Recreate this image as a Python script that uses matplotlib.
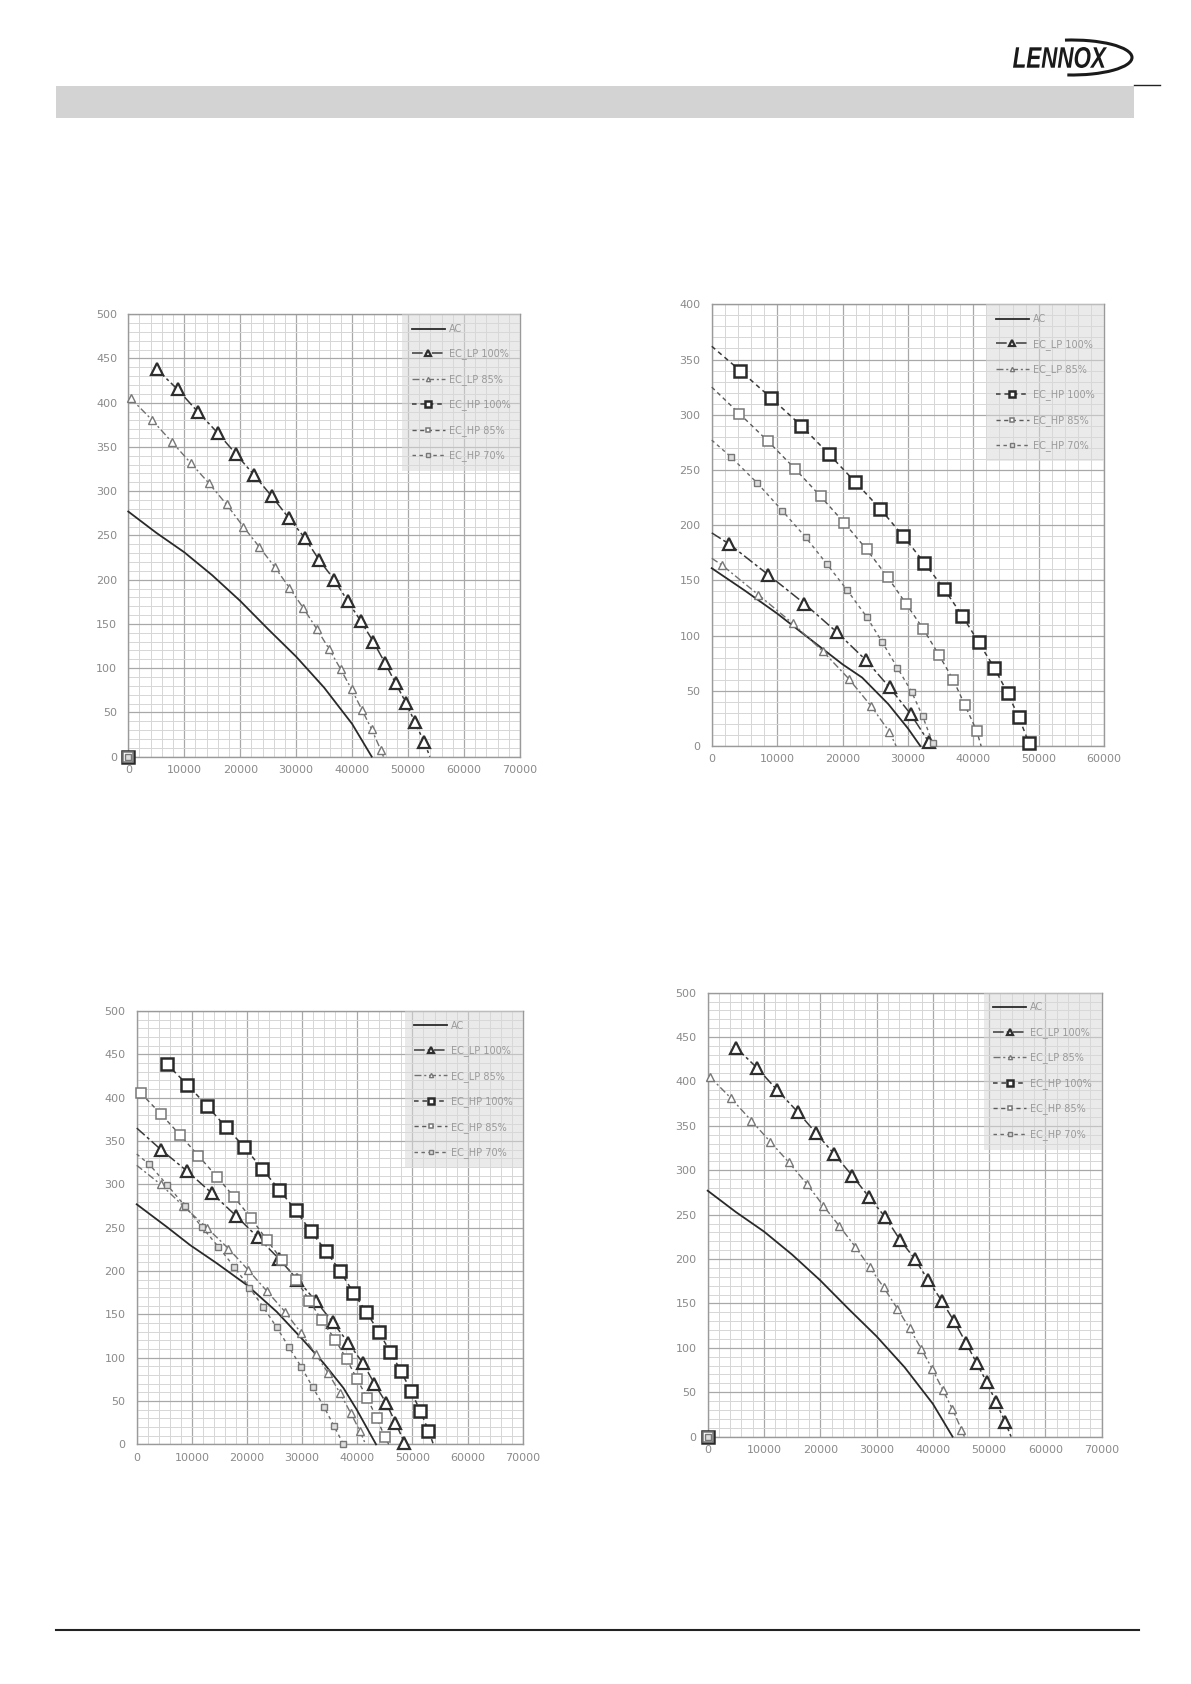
# Fan curves: pressure vs air flow, four unit variants (Lennox datasheet page)

import matplotlib
matplotlib.use("Agg")
import matplotlib.pyplot as plt
from matplotlib.lines import Line2D
from matplotlib.patches import Rectangle, PathPatch, Arc
from matplotlib.textpath import TextPath
from matplotlib.font_manager import FontProperties
from matplotlib.ticker import MultipleLocator
import matplotlib.transforms as mtransforms

W, H = 1191, 1684

labels = ["AC", "EC_LP 100%", "EC_LP 85%", "EC_HP 100%", "EC_HP 85%", "EC_HP 70%"]

# ---- chart 1 (top left) and chart 4 (bottom right) show the same curves
ac1_x = [0, 5000, 10000, 15000, 20000, 25000, 30000, 35000, 40000, 43500]
ac1_y = [277, 253, 231, 205, 176, 144, 113, 78, 37, 0]
lp100_1_x = [5060, 8820, 12390, 15960, 19240, 22510, 25670, 28650, 31570, 34130,
             36810, 39190, 41570, 43780, 45860, 47770, 49610, 51220, 52830]
lp100_1_y = [438, 415, 390, 366, 342, 318, 294, 270, 247, 222,
             200, 176, 153, 130, 106, 83, 61, 39, 17]
lp100_1_end = 53900
lp85_1_x = [420, 4170, 7740, 11140, 14410, 17570, 20550, 23410, 26210, 28770,
            31270, 33710, 35860, 37940, 39910, 41750, 43480, 45090]
lp85_1_y = [405, 381, 356, 332, 309, 285, 260, 237, 214, 191,
            168, 144, 122, 99, 76, 53, 31, 8]
lp85_1_end = 45600
hp_origin_x = [0]
hp_origin_y = [0]

# ---- chart 2 (top right)
ac2_x = [0, 5000, 10000, 15000, 20000, 23000, 27000, 30000, 31900]
ac2_y = [161, 141, 120, 97, 74, 62, 38, 16, 0]
lp100_2_x = [2650, 8660, 14160, 19150, 23540, 27200, 30410, 33160]
lp100_2_y = [183, 155, 129, 103, 78, 53, 29, 4]
lp100_2_start, lp100_2_end = 193, 33500
lp85_2_x = [1530, 7130, 12380, 16960, 20940, 24400, 27150]
lp85_2_y = [164, 137, 111, 86, 61, 36, 13]
lp85_2_start, lp85_2_end = 170, 28200
hp100_2_x = [4330, 9120, 13700, 17980, 21960, 25730, 29290, 32500, 35560, 38310,
             40810, 43200, 45240, 46970, 48500]
hp100_2_y = [340, 315, 290, 264, 239, 215, 190, 166, 142, 118,
             94, 71, 48, 26, 3]
hp100_2_start, hp100_2_end = 362, 48800
hp85_2_x = [4230, 8610, 12740, 16660, 20280, 23690, 26900, 29700, 32350, 34790,
            36930, 38720, 40500]
hp85_2_y = [301, 276, 251, 226, 202, 178, 153, 129, 106, 82, 60, 37, 14]
hp85_2_start, hp85_2_end = 325, 41200
hp70_2_x = [2900, 6980, 10800, 14370, 17580, 20730, 23690, 26080, 28380, 30570,
            32250, 33780]
hp70_2_y = [262, 238, 213, 189, 165, 141, 117, 94, 71, 49, 27, 3]
hp70_2_start, hp70_2_end = 277, 34000

# ---- chart 3 (bottom left)
ac3_x = [0, 5440, 9670, 14510, 19950, 25390, 30230, 33860, 37490, 39900, 43400]
ac3_y = [277, 251, 230, 209, 184, 153, 120, 94, 65, 40, 0]
lp100_3_x = [4410, 9190, 13600, 17960, 21950, 25820, 29140, 32530, 35550, 38390,
             40990, 43110, 45220, 46920, 48550]
lp100_3_y = [340, 315, 290, 264, 239, 214, 190, 165, 141, 117, 94, 70, 48, 25, 2]
lp100_3_start, lp100_3_end = 365, 48700
lp85_3_x = [4350, 8460, 12700, 16630, 20250, 23580, 26900, 29750, 32470, 34760,
            36880, 38820, 40510]
lp85_3_y = [300, 275, 250, 226, 201, 177, 153, 129, 104, 82, 59, 36, 15]
lp85_3_start, lp85_3_end = 322, 41500
hp100_3_x = [5440, 9190, 12700, 16200, 19530, 22730, 25820, 28840, 31560, 34340,
             36880, 39300, 41600, 43890, 45950, 47880, 49700, 51390, 52900]
hp100_3_y = [439, 415, 391, 366, 343, 318, 294, 270, 246, 223,
             200, 175, 153, 130, 107, 85, 62, 39, 16]
hp100_3_end = 53800
hp85_3_x = [790, 4410, 7860, 11190, 14510, 17720, 20740, 23580, 26300, 28900,
            31320, 33560, 35970, 38090, 39900, 41840, 43530, 45040]
hp85_3_y = [405, 381, 357, 333, 309, 285, 261, 236, 213, 190,
            166, 143, 121, 98, 76, 53, 30, 8]
hp85_3_end = 45700
hp70_3_x = [2300, 5560, 8770, 11790, 14810, 17650, 20440, 22980, 25390, 27620,
            29870, 31920, 33980, 35790, 37490]
hp70_3_y = [323, 299, 275, 251, 228, 205, 181, 158, 135, 112, 89, 66, 43, 21, 0]
hp70_3_start = 335

# ---- styles
st_ac = dict(color="#2a2a2a", lw=1.3, ls="-")
st_lp100 = dict(color="#3a3a3a", lw=1.1, dashes=(7, 2, 2, 2), marker="^", ms=8.5,
                mfc="white", mec="#2e2e2e", mew=1.6)
st_lp85 = dict(color="#707070", lw=1.0, dashes=(5, 2, 1.5, 2), marker="^", ms=5.5,
               mfc="white", mec="#777777", mew=1.0)
st_hp100 = dict(color="#3a3a3a", lw=1.1, dashes=(3, 2.5), marker="s", ms=9,
                mfc="white", mec="#2a2a2a", mew=1.8)
st_hp85 = dict(color="#5a5a5a", lw=1.0, dashes=(3, 2.5), marker="s", ms=6.5,
               mfc="white", mec="#777777", mew=1.1)
st_hp70 = dict(color="#6a6a6a", lw=1.0, dashes=(2.5, 2.5), marker="s", ms=5,
               mfc="#dddddd", mec="#777777", mew=1.0)


def series(ax, xs, ys, style, label, start=None, end=None):
    # line runs from an optional start on the y axis through the markers
    # to an optional end on the x axis; markers only on the read points
    lx = list(xs)
    ly = list(ys)
    first = 0
    if start is not None:
        lx = [0] + lx
        ly = [start] + ly
        first = 1
    if end is not None:
        lx = lx + [end]
        ly = ly + [0]
    idx = list(range(first, first + len(xs)))
    ax.plot(lx, ly, markevery=idx, label=label, clip_on=False, zorder=3, **style)


def setup(ax, xmax, ymax):
    ax.set_xlim(0, xmax)
    ax.set_ylim(0, ymax)
    ax.xaxis.set_major_locator(MultipleLocator(10000))
    ax.xaxis.set_minor_locator(MultipleLocator(2000))
    ax.yaxis.set_major_locator(MultipleLocator(50))
    ax.yaxis.set_minor_locator(MultipleLocator(10))
    ax.grid(which="major", color="#a8a8a8", lw=0.9)
    ax.grid(which="minor", color="#d6d6d6", lw=0.7)
    ax.set_axisbelow(True)
    ax.tick_params(which="both", length=0, labelsize=8, labelcolor="#8a8a8a")
    ax.tick_params(axis="x", pad=6)
    ax.tick_params(axis="y", pad=8)
    for s in ax.spines.values():
        s.set_color("#9a9a9a")
        s.set_linewidth(1.0)


def legend(ax):
    leg = ax.legend(loc="upper right", bbox_to_anchor=(1, 1), borderaxespad=0,
                    fontsize=7, labelcolor="#9a9a9a", handlelength=3.4,
                    labelspacing=1.5, borderpad=1.0, markerscale=0.55,
                    handletextpad=0.4, fancybox=False, frameon=True)
    fr = leg.get_frame()
    fr.set_facecolor("#d9d9d9")
    fr.set_alpha(0.55)
    fr.set_edgecolor("none")


fig = plt.figure(figsize=(W / 100, H / 100), dpi=100)

# axes boxes in figure fraction
ax1 = fig.add_axes([0.1077, 0.5507, 0.3289, 0.2627])
ax2 = fig.add_axes([0.5976, 0.5570, 0.3294, 0.2623])
ax3 = fig.add_axes([0.1148, 0.1423, 0.3241, 0.2573])
ax4 = fig.add_axes([0.5942, 0.1469, 0.3308, 0.2636])

# chart 1 and chart 4
for ax in (ax1, ax4):
    setup(ax, 70000, 500)
    series(ax, ac1_x, ac1_y, dict(st_ac), labels[0])
    series(ax, lp100_1_x, lp100_1_y, st_lp100, labels[1], end=lp100_1_end)
    series(ax, lp85_1_x, lp85_1_y, st_lp85, labels[2], end=lp85_1_end)
    series(ax, hp_origin_x, hp_origin_y, st_hp100, labels[3])
    series(ax, hp_origin_x, hp_origin_y, st_hp85, labels[4])
    series(ax, hp_origin_x, hp_origin_y, st_hp70, labels[5])
    legend(ax)

# chart 2
setup(ax2, 60000, 400)
series(ax2, ac2_x, ac2_y, st_ac, labels[0])
series(ax2, lp100_2_x, lp100_2_y, st_lp100, labels[1], lp100_2_start, lp100_2_end)
series(ax2, lp85_2_x, lp85_2_y, st_lp85, labels[2], lp85_2_start, lp85_2_end)
series(ax2, hp100_2_x, hp100_2_y, st_hp100, labels[3], hp100_2_start, hp100_2_end)
series(ax2, hp85_2_x, hp85_2_y, st_hp85, labels[4], hp85_2_start, hp85_2_end)
series(ax2, hp70_2_x, hp70_2_y, st_hp70, labels[5], hp70_2_start, hp70_2_end)
legend(ax2)

# chart 3
setup(ax3, 70000, 500)
series(ax3, ac3_x, ac3_y, st_ac, labels[0])
series(ax3, lp100_3_x, lp100_3_y, st_lp100, labels[1], lp100_3_start, lp100_3_end)
series(ax3, lp85_3_x, lp85_3_y, st_lp85, labels[2], lp85_3_start, lp85_3_end)
series(ax3, hp100_3_x, hp100_3_y, st_hp100, labels[3], end=hp100_3_end)
series(ax3, hp85_3_x, hp85_3_y, st_hp85, labels[4], end=hp85_3_end)
series(ax3, hp70_3_x, hp70_3_y, st_hp70, labels[5], hp70_3_start)
legend(ax3)

# page decoration: grey header band, rules, logo
fig.add_artist(Rectangle((56 / W, 1 - 118 / H), (1134 - 56) / W, 32 / H,
                         transform=fig.transFigure, color="#d3d3d3", lw=0))
fig.add_artist(Line2D([1134 / W, 1160 / W], [1 - 85 / H, 1 - 85 / H],
                      transform=fig.transFigure, color="#222222", lw=1))
fig.add_artist(Line2D([56 / W, 1139 / W], [1 - 1630 / H, 1 - 1630 / H],
                      transform=fig.transFigure, color="#222222", lw=1.5))

fp = FontProperties(family="Liberation Sans", weight="bold", style="italic")
tp = TextPath((0, 0), "LENNOX", size=1, prop=fp)
bb = tp.get_extents()
logo_tr = (mtransforms.Affine2D().translate(-bb.x0, -bb.y0)
           .scale(94 / bb.width, 21 / bb.height).translate(1013, H - 68))
fig.add_artist(PathPatch(tp, transform=logo_tr, color="#1a1a1a", lw=0))
fig.add_artist(Arc((1072, H - 57.5), 120, 35, theta1=-105, theta2=112,
                   transform=mtransforms.IdentityTransform(), color="#1a1a1a", lw=2.2))

fig.savefig("out.png", dpi=100, facecolor="white")
